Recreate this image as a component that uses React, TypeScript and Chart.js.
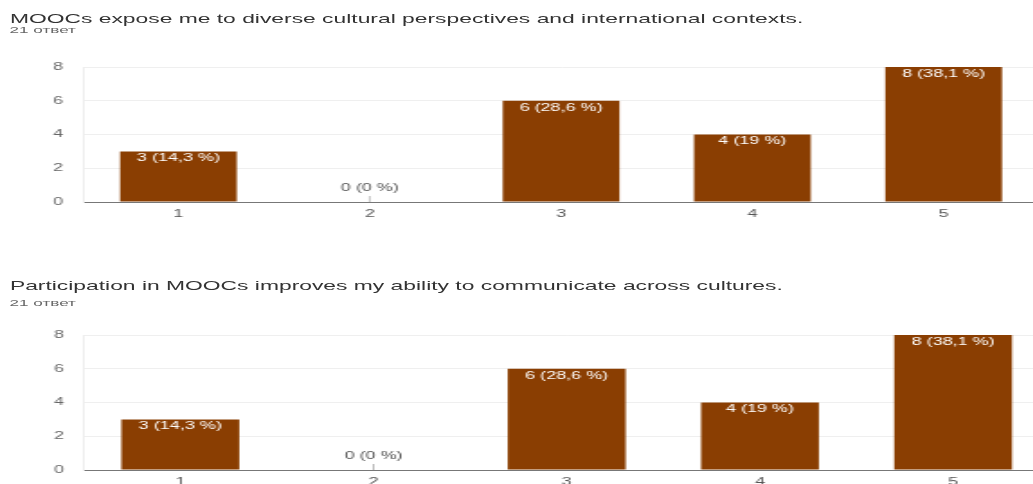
import React, { useEffect, useRef } from "react";
import { Chart, registerables } from "chart.js";

Chart.register(...registerables);

// ---- data ----
const categories = ["1", "2", "3", "4", "5"];
const culturalPerspectivesValues = [3, 0, 6, 4, 8];
const communicationValues = [3, 0, 6, 4, 8];
const yTickMin = 0;
const yTickMax = 8;
const yTickStep = 2;
const totalResponses = 21;
const chartTitles = [
  "MOOCs expose me to diverse cultural perspectives and international contexts.",
  "Participation in MOOCs improves my ability to communicate across cultures.",
];
const responsesLabel = "21 ответ";

// ---- style ----
const STRETCH = 1.8; // reference is horizontally stretched
const CANVAS_W = 590;
const FONT = "'Liberation Sans', Arial, sans-serif";
const BAR_COLOR = "#8a3e02";

function pctLabel(v: number): string {
  const p = Math.round((v / totalResponses) * 1000) / 10;
  return `${v} (${String(p).replace(".", ",")} %)`;
}

const valueLabelPlugin = {
  id: "valueLabels",
  afterDatasetsDraw(chart: any) {
    const ctx = chart.ctx;
    const meta = chart.getDatasetMeta(0);
    const data = chart.data.datasets[0].data as number[];
    ctx.save();
    ctx.font = `10px ${FONT}`;
    ctx.textAlign = "center";
    ctx.textBaseline = "middle";
    meta.data.forEach((bar: any, i: number) => {
      const v = data[i];
      const { x, y, base } = bar.getProps(["x", "y", "base"], true);
      const text = pctLabel(v);
      if (v > 0) {
        ctx.fillStyle = "#ffffff";
        ctx.fillText(text, x, y + 7);
      } else {
        ctx.fillStyle = "#555555";
        ctx.fillText(text, x, base - 14);
        ctx.strokeStyle = "#999999";
        ctx.lineWidth = 0.6;
        ctx.beginPath();
        ctx.moveTo(x, base - 6);
        ctx.lineTo(x, base);
        ctx.stroke();
      }
    });
    ctx.restore();
  },
};

type BlockProps = {
  values: number[];
  top: number;
  areaLeft: number;
  areaRight: number;
};

function BarBlock({ values, top, areaLeft, areaRight }: BlockProps) {
  const ref = useRef<HTMLCanvasElement | null>(null);
  const height = 182;
  useEffect(() => {
    if (!ref.current) return;
    const chart = new Chart(ref.current, {
      type: "bar",
      data: {
        labels: categories,
        datasets: [
          {
            data: values,
            backgroundColor: BAR_COLOR,
            borderWidth: 0,
            barPercentage: 0.61,
            categoryPercentage: 1,
          },
        ],
      },
      options: {
        animation: false,
        responsive: false,
        events: [],
        layout: { padding: { top: 15, right: CANVAS_W - areaRight, left: 0, bottom: 0 } },
        plugins: { legend: { display: false }, tooltip: { enabled: false } },
        scales: {
          x: {
            afterFit: (s: any) => {
              s.height = 30;
            },
            grid: { display: false, drawTicks: false },
            border: { color: "#777777", width: 1 },
            ticks: { padding: 6, color: "#555555", font: { size: 10, family: FONT } },
          },
          y: {
            min: yTickMin,
            max: yTickMax,
            afterFit: (s: any) => {
              s.width = areaLeft;
            },
            grid: {
              drawTicks: false,
              color: (c: any) => (c.tick && c.tick.value === 0 ? "rgba(0,0,0,0)" : "#efefef"),
            },
            border: { color: "#eeeeee", width: 1 },
            ticks: {
              stepSize: yTickStep,
              padding: 11,
              color: "#666666",
              font: { size: 10, family: FONT },
            },
          },
        },
      },
      plugins: [valueLabelPlugin],
    });
    return () => chart.destroy();
  }, [values, areaLeft, areaRight]);
  return (
    <canvas
      ref={ref}
      width={CANVAS_W}
      height={height}
      style={{ position: "absolute", left: 0, top }}
    />
  );
}

function TitleBlock({ title, titleTop, subTop }: { title: string; titleTop: number; subTop: number }) {
  return (
    <>
      <div
        style={{
          position: "absolute",
          left: 5.5,
          top: titleTop,
          fontFamily: FONT,
          fontSize: 12.7,
          lineHeight: 1,
          color: "#333333",
          whiteSpace: "nowrap",
        }}
      >
        {title}
      </div>
      <div
        style={{
          position: "absolute",
          left: 5.3,
          top: subTop,
          fontFamily: FONT,
          fontSize: 9.5,
          lineHeight: 1,
          color: "#666666",
          whiteSpace: "nowrap",
        }}
      >
        {responsesLabel}
      </div>
    </>
  );
}

export default function App() {
  return (
    <div
      style={{
        position: "fixed",
        left: 0,
        top: 0,
        width: 1033,
        height: 484,
        overflow: "hidden",
        background: "#ffffff",
      }}
    >
      <div
        style={{
          position: "absolute",
          left: 0,
          top: 0,
          width: CANVAS_W,
          height: 484,
          transform: `scaleX(${STRETCH})`,
          transformOrigin: "0 0",
        }}
      >
        <TitleBlock title={chartTitles[0]} titleTop={13.3} subTop={25.3} />
        <BarBlock values={culturalPerspectivesValues} top={50} areaLeft={46} areaRight={577.4} />
        <TitleBlock title={chartTitles[1]} titleTop={280.2} subTop={298} />
        <BarBlock values={communicationValues} top={318} areaLeft={46.5} areaRight={583.2} />
      </div>
    </div>
  );
}
